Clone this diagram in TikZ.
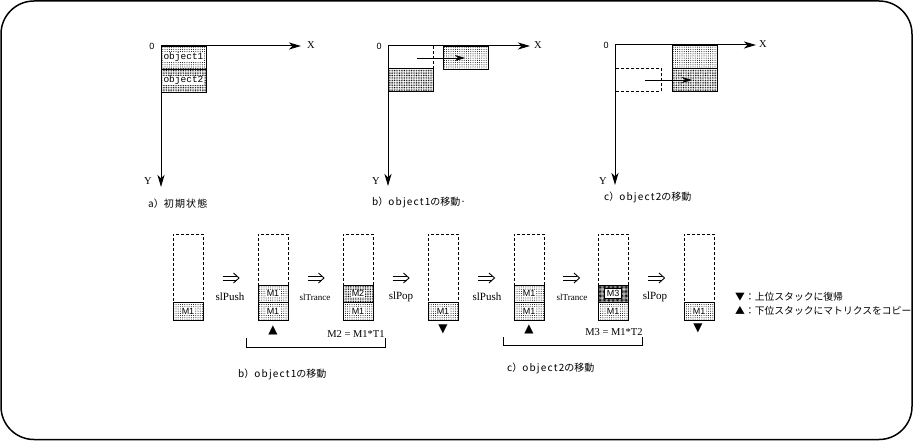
\documentclass[tikz,border=0pt]{standalone}
\usepackage{fontspec}
\setmainfont{Liberation Serif}
\newfontfamily\jp{Noto Sans CJK JP}
\newfontfamily\jpw[LetterSpace=12]{Noto Sans CJK JP}
\newfontfamily\monofnt{Liberation Mono}
\newfontfamily\sansfnt{Liberation Sans}
\newfontfamily\dv{DejaVu Sans}
\usetikzlibrary{patterns.meta,arrows.meta}
\begin{document}
\begin{tikzpicture}[x=1pt,y=-1pt,
  frame/.style={line width=1.5pt, rounded corners=33pt},
  axis/.style={line width=1pt, -{Stealth[length=12pt,width=7pt,inset=3.5pt]}},
  mvarrow/.style={line width=0.8pt, -{Stealth[length=10pt,width=6pt,inset=3pt]}},
  impl/.style={line width=0.9pt},
  light/.style={pattern={Dots[distance=2.2pt,radius=0.5pt]}},
  dense/.style={pattern={Dots[distance=1.7pt,radius=0.55pt]}},
  darkdots/.style={pattern={Dots[distance=1.3pt,radius=0.6pt]}},
  dashedline/.style={line width=0.8pt, dash pattern=on 3pt off 2pt},
  objbox/.style={draw, line width=0.8pt, minimum width=45pt, minimum height=23pt, inner sep=0pt},
  objlbl/.style={font=\monofnt\fontsize{9.5}{10}\selectfont, fill=white, inner sep=0.5pt},
  axlbl/.style={font=\fontsize{10.5}{11}\selectfont, inner sep=0pt},
  zerolbl/.style={font=\sansfnt\fontsize{9}{10}\selectfont, inner sep=0pt},
  caption/.style={font=\jp\fontsize{10}{11}\selectfont, anchor=west, inner sep=0pt},
  stackbox/.style={draw, dashedline, minimum width=30pt, minimum height=86pt, inner sep=0pt},
  cellbox/.style={draw, line width=0.8pt, minimum width=30pt, inner sep=0pt},
  cellA/.style={cellbox, minimum height=18pt},
  cellB/.style={cellbox, minimum height=17pt},
  celllbl/.style={font=\sansfnt\fontsize{9}{10}\selectfont, fill=white, inner sep=0.8pt},
  oplbl/.style={font=\fontsize{11}{12}\selectfont, inner sep=0pt},
  oplblsmall/.style={font=\fontsize{9}{10}\selectfont, inner sep=0pt},
  marker/.style={font=\dv\fontsize{12}{13}\selectfont, inner sep=0pt},
  formula/.style={font=\fontsize{10.5}{11}\selectfont, inner sep=0pt},
  bracket/.style={line width=0.8pt},
  legend/.style={font=\jp\fontsize{9.8}{11}\selectfont, anchor=west, inner sep=0pt}
]
\useasboundingbox (0,0) rectangle (914,441);
\draw[frame] (1,1) rectangle (912,439.5);

% ---------------- panel a ----------------
\coordinate (Oa) at (161,46);
\coordinate (Xa) at (301,46);
\coordinate (Ya) at (161,187);
\node[objbox, light] (a1) at (183.5,57.5) {};
\node[objbox, dense] (a2) at (183.5,80.5) {};
\node[objlbl] (a1t) at (a1) {object1};
\node[objlbl] (a2t) at (a2) {object2};
\draw[axis] (Oa) -- (Xa);
\draw[axis] (Oa) -- (Ya);
\node[zerolbl] (za) at (152,46) {0};
\node[axlbl] (xa) at (311,45) {X};
\node[axlbl] (ya) at (148,181) {Y};
\node[caption] (capa) at (148,204) {a）{\jpw 初期状態}};

% ---------------- panel b ----------------
\coordinate (Ob) at (388,46);
\coordinate (Xb) at (530,46);
\coordinate (Yb) at (388,186);
\node[objbox, dense] (b2) at (410.5,80) {};
\node[objbox, light] (b1) at (466,57.5) {};
\coordinate (bd1) at (433,46);
\coordinate (bd2) at (433,68.5);
\draw[dashedline] (bd1) -- (bd2);
\coordinate (bm1) at (417,58);
\coordinate (bm2) at (465,58);
\draw[mvarrow] (bm1) -- (bm2);
\draw[axis] (Ob) -- (Xb);
\draw[axis] (Ob) -- (Yb);
\node[zerolbl] (zb) at (379,46) {0};
\node[axlbl] (xb) at (538,45) {X};
\node[axlbl] (yb) at (376,181) {Y};
\node[caption] (capb) at (372,202) {b）{\jpw object1}の移動·};

% ---------------- panel c ----------------
\coordinate (Oc) at (615,45);
\coordinate (Xc) at (756,45);
\coordinate (Yc) at (615,185);
\node[objbox, light] (c1) at (694.5,56.5) {};
\node[objbox, dense] (c2) at (694.5,80) {};
\node[objbox, draw=none] (c0) at (638,80) {};
\draw[dashedline] (c0.north west) rectangle (c0.south east);
\coordinate (cm1) at (645,80);
\coordinate (cm2) at (692,80);
\draw[mvarrow] (cm1) -- (cm2);
\draw[axis] (Oc) -- (Xc);
\draw[axis] (Oc) -- (Yc);
\node[zerolbl] (zc) at (606,45) {0};
\node[axlbl] (xc) at (763,44) {X};
\node[axlbl] (yc) at (603,181) {Y};
\node[caption] (capc) at (604,197) {c）{\jpw object2}の移動};

% ---------------- stacks ----------------
\node[stackbox] (st1) at (188,277) {};
\node[cellA, light] (s1a) at (188,311) {};
\node[celllbl] (s1at) at (s1a) {M1};
\node[stackbox] (st2) at (273,277) {};
\node[cellA, light] (s2a) at (273,311) {};
\node[cellB, light] (s2b) at (273,293.5) {};
\node[celllbl] (s2at) at (s2a) {M1};
\node[celllbl] (s2bt) at (s2b) {M1};
\node[stackbox] (st3) at (358,277) {};
\node[cellA, light] (s3a) at (358,311) {};
\node[cellB, dense] (s3b) at (358,293.5) {};
\node[celllbl] (s3at) at (s3a) {M1};
\node[celllbl] (s3bt) at (s3b) {M2};
\node[stackbox] (st4) at (443,277) {};
\node[cellA, light] (s4a) at (443,311) {};
\node[celllbl] (s4at) at (s4a) {M1};
\node[stackbox] (st5) at (529,277) {};
\node[cellA, light] (s5a) at (529,311) {};
\node[cellB, light] (s5b) at (529,293.5) {};
\node[celllbl] (s5at) at (s5a) {M1};
\node[celllbl] (s5bt) at (s5b) {M1};
\node[stackbox] (st6) at (613,277) {};
\node[cellA, light] (s6a) at (613,311) {};
\node[cellB, darkdots] (s6b) at (613,293.5) {};
\node[celllbl] (s6at) at (s6a) {M1};
\node[celllbl, draw, line width=0.8pt, minimum width=17pt, minimum height=10pt] (s6bt) at (s6b) {M3};
\node[stackbox] (st7) at (699,277) {};
\node[cellA, light] (s7a) at (699,311) {};
\node[celllbl] (s7at) at (s7a) {M1};

% ---------------- operations (double arrows) ----------------
\foreach \i/\xx in {1/230.5, 2/315.5, 3/400.5, 4/486, 5/571, 6/656} {
  \coordinate (d\i a) at (\xx-8,276);
  \coordinate (d\i b) at (\xx+6,276);
  \coordinate (d\i c) at (\xx-8,280);
  \coordinate (d\i d) at (\xx+6,280);
  \coordinate (d\i t) at (\xx+3,273);
  \coordinate (d\i p) at (\xx+8.5,278);
  \coordinate (d\i u) at (\xx+3,283);
  \draw[impl] (d\i a) -- (d\i b);
  \draw[impl] (d\i c) -- (d\i d);
  \draw[impl] (d\i t) -- (d\i p) -- (d\i u);
}
\node[oplbl] (o1) at (230,297) {slPush};
\node[oplblsmall] (o2) at (315,297) {slTrance};
\node[oplbl] (o3) at (401,297) {slPop};
\node[oplbl] (o4) at (487,297) {slPush};
\node[oplblsmall] (o5) at (572,297) {slTrance};
\node[oplbl] (o6) at (655,297) {slPop};

\node[marker] (m1) at (273,330) {▲};
\node[marker] (m2) at (443,329) {▼};
\node[marker] (m3) at (529,329) {▲};
\node[marker] (m4) at (698,328) {▼};

\node[formula] (f1) at (356,334) {M2 = M1*T1};
\node[formula] (f2) at (614,332) {M3 = M1*T2};

\coordinate (b1l) at (246,338);
\coordinate (b1ll) at (246,347);
\coordinate (b1rr) at (385,347);
\coordinate (b1r) at (385,338);
\draw[bracket] (b1l) -- (b1ll) -- (b1rr) -- (b1r);
\coordinate (b2l) at (503,337);
\coordinate (b2ll) at (503,345);
\coordinate (b2rr) at (642,345);
\coordinate (b2r) at (642,337);
\draw[bracket] (b2l) -- (b2ll) -- (b2rr) -- (b2r);

\node[caption] (capb2) at (238,374) {b）{\jpw object1}の移動};
\node[caption] (capc2) at (507,368) {c）{\jpw object2}の移動};

\node[legend] (lg1) at (735,297) {▼：上位スタックに復帰};
\node[legend] (lg2) at (735,311) {▲：下位スタックにマトリクスをコピー};
\end{tikzpicture}
\end{document}
